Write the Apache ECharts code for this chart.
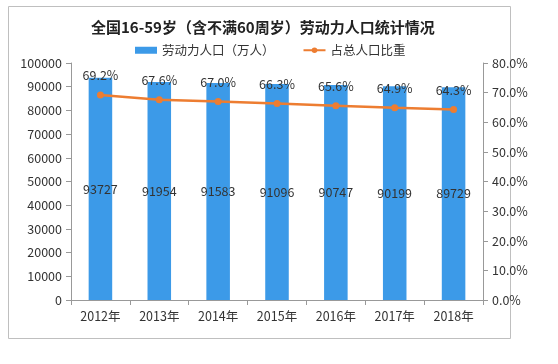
<!DOCTYPE html>
<html><head><meta charset="utf-8">
<script src="https://cdn.jsdelivr.net/npm/echarts@6/dist/echarts.min.js"></script>
<style>html,body{margin:0;padding:0;background:#fff}#c{width:558px;height:364px}</style>
</head><body><div id="c"></div>
<script>
const categories = ['2012年','2013年','2014年','2015年','2016年','2017年','2018年'];
const laborForce = [93727, 91954, 91583, 91096, 90747, 90199, 89729];
const shareOfTotal = [69.2, 67.6, 67.0, 66.3, 65.6, 64.9, 64.3];
const FONT = '"Noto Sans CJK SC", sans-serif';
const chart = echarts.init(document.getElementById('c'));
chart.setOption({
  backgroundColor: '#fff',
  textStyle: { fontFamily: FONT },
  graphic: [{ type: 'rect', shape: { x: 8.5, y: 6.5, width: 502, height: 332 }, style: { fill: 'none', stroke: '#bfbfbf', lineWidth: 1 }, silent: true }],
  title: { text: '全国16-59岁（含不满60周岁）劳动力人口统计情况', left: 86, top: 15,
    textStyle: { fontSize: 15, fontWeight: 'bold', color: '#222', fontFamily: FONT } },
  legend: { top: 39, left: 130, itemGap: 28, itemWidth: 22, itemHeight: 7,
    textStyle: { fontSize: 12.5, color: '#333', fontFamily: FONT },
    data: [{ name: '劳动力人口（万人）', icon: 'rect' }, { name: '占总人口比重' }] },
  grid: { left: 71, right: 75, top: 63, bottom: 64 },
  xAxis: { type: 'category', data: categories,
    axisLine: { lineStyle: { color: '#999' } },
    axisTick: { show: true, alignWithLabel: false, lineStyle: { color: '#999' }, length: 5 },
    axisLabel: { fontSize: 12.5, color: '#333', margin: 10 } },
  yAxis: [
    { type: 'value', min: 0, max: 100000, interval: 10000,
      axisLine: { show: true, lineStyle: { color: '#999' } },
      axisTick: { show: true, lineStyle: { color: '#999' }, length: 5 },
      splitLine: { show: false },
      axisLabel: { fontSize: 12.5, color: '#333', margin: 9, formatter: v => String(v) } },
    { type: 'value', min: 0, max: 80, interval: 10, position: 'right',
      axisLine: { show: true, lineStyle: { color: '#999' } },
      axisTick: { show: true, lineStyle: { color: '#999' }, length: 5 },
      splitLine: { show: false },
      axisLabel: { fontSize: 12.5, color: '#333', margin: 9, formatter: v => v.toFixed(1) + '%' } }
  ],
  series: [
    { name: '劳动力人口（万人）', type: 'bar', data: laborForce, barWidth: '40%',
      itemStyle: { color: '#3c9ae8' },
      label: { show: true, position: 'inside', color: '#333', fontSize: 12.5 } },
    { name: '占总人口比重', type: 'line', yAxisIndex: 1, data: shareOfTotal,
      symbol: 'circle', symbolSize: 7,
      lineStyle: { color: '#ed7d31', width: 2.5 }, itemStyle: { color: '#ed7d31' },
      label: { show: true, position: 'top', distance: 10, color: '#333', fontSize: 12.5,
        formatter: p => p.value.toFixed(1) + '%' } }
  ]
});
</script></body></html>
